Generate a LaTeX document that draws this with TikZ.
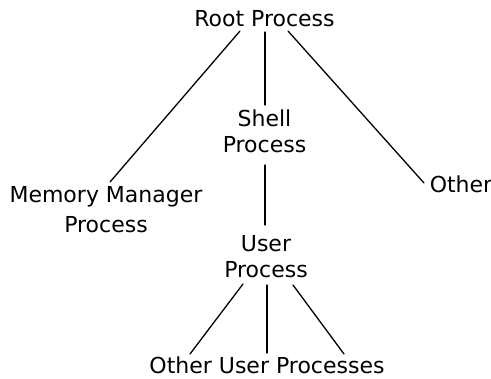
\documentclass[tikz,border=0pt]{standalone}
\usepackage{fontspec}
\setmainfont{DejaVu Sans}
\usetikzlibrary{calc}
\begin{document}
\begin{tikzpicture}[x=1pt,y=-1pt,
  lbl/.style={inner sep=0pt, font=\fontsize{22}{25.5}\selectfont, align=center},
  link/.style={line width=1.3pt, line cap=round}]
\useasboundingbox[fill=white] (0,0) rectangle (491,379);
\node[lbl, anchor=base] (root) at (264.5,27) {Root Process};
\node[lbl, anchor=south] (mm) at (106,233) {Memory Manager\\[4.5pt]Process};
\node[lbl, anchor=south] (shell) at (264.5,153) {Shell\\Process};
\node[lbl, anchor=base] (other) at (461,193) {Other};
\node[lbl, anchor=south] (user) at (266,278) {User\\Process};
\node[lbl, anchor=base] (ou) at (267,374) {Other\ User\ Processes};
% root children
\draw[link] ($(root.base)+(-24.5,4)$) -- ($(mm.south)+(4,-51)$);
\draw[link] ($(root.base)+(0.5,5)$) -- ($(shell.south)+(0.5,-48)$);
\draw[link] ($(root.base)+(23.5,4)$) -- ($(other.base)+(-37,-10)$);
% shell to user
\draw[link] ($(shell.south)+(0.5,12)$) -- ($(user.south)+(-1,-53)$);
% user children
\draw[link] ($(user.south)+(-23,6)$) -- ($(ou.base)+(-77,-20)$);
\draw[link] ($(user.south)+(1,7)$) -- ($(ou.base)+(0,-21)$);
\draw[link] ($(user.south)+(27,7)$) -- ($(ou.base)+(77,-20)$);
\end{tikzpicture}
\end{document}
